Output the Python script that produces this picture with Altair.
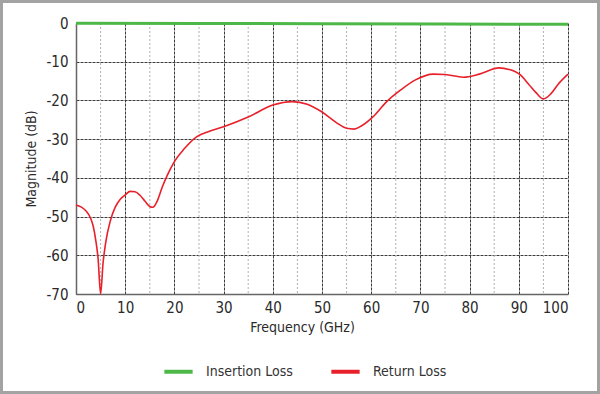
import altair as alt
import pandas as pd

# Return loss (red)
rl_freq = [0, 1, 2, 3, 3.5, 4, 4.5, 5, 5.5, 6, 7, 8, 9, 10, 11, 12, 13, 14, 15, 15.6,
           16.5, 17.5, 18.5, 20, 22, 24.5, 27, 30, 35, 40, 44, 47, 50, 53, 55, 56.5, 58,
           60.4, 63, 66, 69, 72.6, 75, 78.7, 82, 86, 88, 90.2, 92, 93.5, 95, 96.5, 98, 100]
rl_db = [-47, -47.5, -48.5, -50.5, -52.5, -56, -61, -70, -62, -57, -51, -47.5, -45.5, -44.4,
         -43.5, -43.6, -44.5, -46, -47.4, -47.6, -46, -42.5, -39.5, -35.8, -32.5, -29.4, -28,
         -26.8, -24.3, -21.2, -20.3, -21, -23, -25.8, -27.2, -27.4, -26.6, -24.2, -20.5,
         -17.3, -14.7, -13.2, -13.3, -14, -13.2, -11.6, -12.0, -13.3, -15.8, -18, -19.6,
         -18.3, -15.8, -13.2]

# Insertion loss (green)
il_freq = [0, 25, 50, 75, 100]
il_db = [-0.05, -0.1, -0.18, -0.26, -0.35]

series_names = ["Insertion Loss", "Return Loss"]
series_colors = ["#4db848", "#e8202a"]

x_major = [0, 10, 20, 30, 40, 50, 60, 70, 80, 90, 100]
x_minor = [5, 15, 25, 35, 45, 55, 65, 75, 85, 95]
y_ticks = [0, -10, -20, -30, -40, -50, -60, -70]

FONT = "DejaVu Sans Condensed, Liberation Sans Narrow, Roboto, sans-serif"

il_df = pd.DataFrame({"freq": il_freq, "db": il_db, "series": series_names[0]})
rl_df = pd.DataFrame({"freq": rl_freq, "db": rl_db, "series": series_names[1]})
minor_df = pd.DataFrame({"freq": x_minor})

xscale = alt.Scale(domain=[0, 100], nice=False, zero=False)
yscale = alt.Scale(domain=[-70, 0], nice=False)

x_enc = alt.X("freq:Q", scale=xscale,
              axis=alt.Axis(values=x_major, title="Frequency (GHz)", grid=True,
                            ticks=False, labelPadding=6, titlePadding=5,
                            titleX=226, labelExpr="datum.value + ''"))
y_enc = alt.Y("db:Q", scale=yscale,
              axis=alt.Axis(values=y_ticks, title="Magnitude (dB)", grid=True,
                            ticks=False, labelPadding=8, titlePadding=7,
                            labelExpr="datum.value + ''"))
color_enc = alt.Color("series:N",
                      scale=alt.Scale(domain=series_names, range=series_colors),
                      legend=alt.Legend(title=None, orient="none", direction="horizontal",
                                        legendX=86, legendY=332,
                                        symbolType="stroke", symbolStrokeWidth=4,
                                        symbolSize=800, labelOffset=11,
                                        columnPadding=30, labelFontSize=14,
                                        labelColor="#333333", labelFont=FONT))

minor = alt.Chart(minor_df).mark_rule(
    color="#b0b0b0", strokeDash=[2, 2], strokeWidth=1
).encode(x=alt.X("freq:Q", scale=xscale))

il_line = alt.Chart(il_df).mark_line(strokeWidth=3, clip=False).encode(
    x=x_enc, y=y_enc, color=color_enc)
rl_line = alt.Chart(rl_df).mark_line(interpolate="monotone", strokeWidth=1.6, clip=False).encode(
    x=x_enc, y=y_enc, color=color_enc)

border = alt.Chart(pd.DataFrame({"a": [0]})).mark_rect(
    fill=None, stroke="#a3a3a3", strokeWidth=3, clip=False
).encode(x=alt.value(-74.5), x2=alt.value(522.5), y=alt.value(-21.5), y2=alt.value(369.5))

chart = alt.layer(minor, rl_line, il_line, border).properties(
    width=492, height=271,
    padding={"left": 76, "top": 23, "right": 32, "bottom": 100},
    autosize=alt.AutoSizeParams(type="none"),
    background="white",
).configure_view(stroke=None).configure_axis(
    labelFont=FONT, titleFont=FONT, labelFontSize=15, titleFontSize=14,
    labelColor="#2a2a2a", titleColor="#2a2a2a", titleFontWeight="normal",
    gridColor="#3a3a3a", gridDash=[3, 1], gridWidth=1, gridOpacity=1,
    domainColor="#666666", domainWidth=1.5,
)

chart.save("out.html", embed_options={"renderer": "svg", "actions": False})
